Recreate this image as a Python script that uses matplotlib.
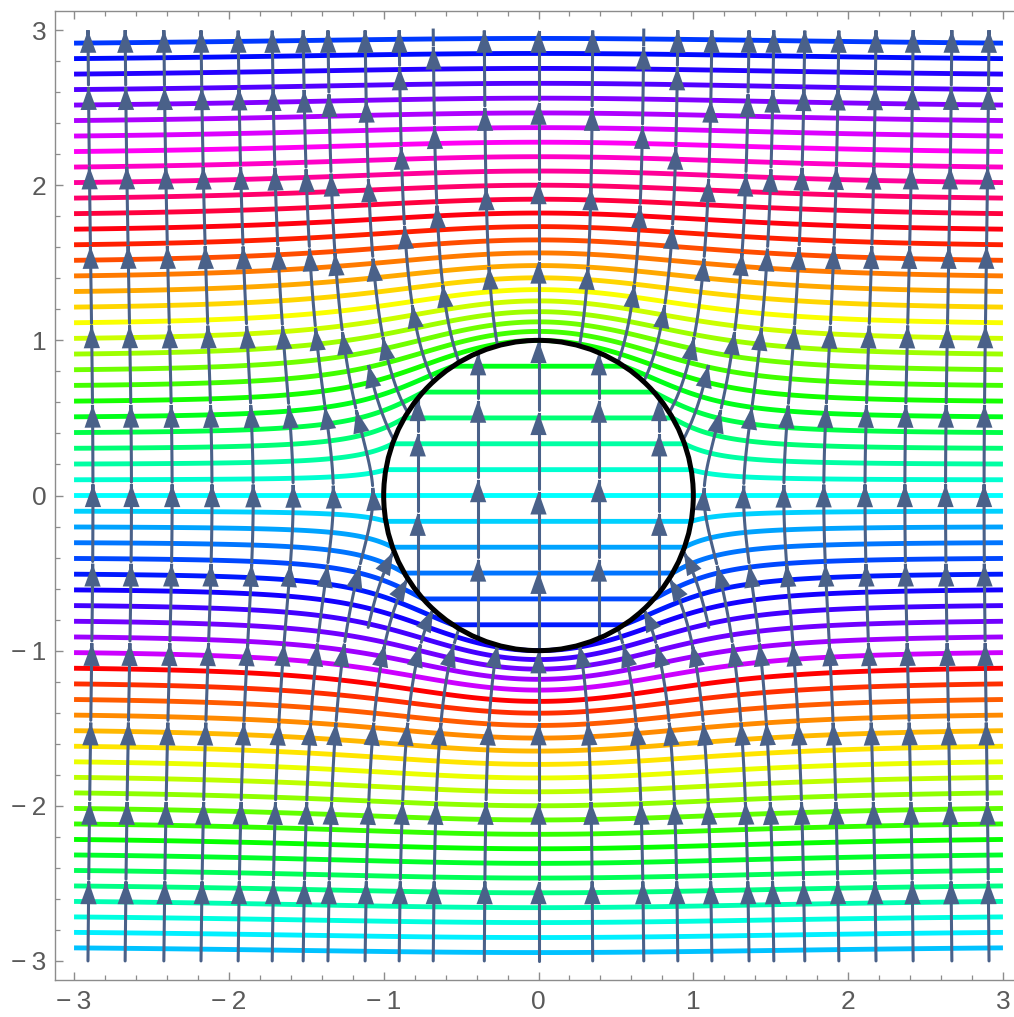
import colorsys
import numpy as np
import matplotlib.pyplot as plt
from matplotlib.patches import FancyArrowPatch, Circle, ArrowStyle
from matplotlib.path import Path
from matplotlib.ticker import MultipleLocator

plt.rcParams['font.family'] = ['Liberation Sans', 'DejaVu Sans']

# dielectric sphere (radius 1) in a uniform field along +y
eps = 3.0
radius = 1.0

# equipotential levels and the hue used for each one
levels = [-2.9, -2.8, -2.7, -2.6, -2.5, -2.4, -2.3, -2.2, -2.1, -2.0,
          -1.9, -1.8, -1.7, -1.6, -1.5, -1.4, -1.3, -1.2, -1.1, -1.0,
          -0.9, -0.8, -0.7, -0.6, -0.5, -0.4, -0.3, -0.2, -0.1, 0.0,
          0.1, 0.2, 0.3, 0.4, 0.5, 0.6, 0.7, 0.8, 0.9, 1.0,
          1.1, 1.2, 1.3, 1.4, 1.5, 1.6, 1.7, 1.8, 1.9, 2.0,
          2.1, 2.2, 2.3, 2.4, 2.5, 2.6, 2.7, 2.8, 2.9]
level_hues = [0.63, 0.66, 0.69, 0.72, 0.75, 0.78, 0.81, 0.84, 0.87, 0.90,
              0.93, 0.96, 0.99, 0.02, 0.05, 0.08, 0.11, 0.14, 0.17, 0.20,
              0.23, 0.26, 0.29, 0.32, 0.35, 0.38, 0.41, 0.44, 0.47, 0.50,
              0.53, 0.56, 0.59, 0.62, 0.65, 0.68, 0.71, 0.74, 0.77, 0.80,
              0.00, 0.03, 0.06, 0.09, 0.12, 0.15, 0.18, 0.21, 0.24, 0.27,
              0.30, 0.33, 0.36, 0.39, 0.42, 0.45, 0.48, 0.51, 0.54]

# field line seeds
xs_bottom = [-2.91, -2.67, -2.42, -2.18, -1.94, -1.72, -1.52, -1.36, -1.12,
             -0.90, -0.68, -0.35, 0.0, 0.35, 0.68, 0.90, 1.12, 1.36, 1.52,
             1.72, 1.94, 2.18, 2.42, 2.67, 2.91]
xs_inside = [-0.78, -0.39, 0.0, 0.39, 0.78]
extra_seeds = [(-1.10, -0.85), (1.10, -0.85)]

tick_values = [-3, -2, -1, 0, 1, 2, 3]
tick_labels = ['\u2212\u20093', '\u2212\u20092', '\u2212\u20091', '0', '1', '2', '3']

K = (eps - 1) / (eps + 2)
E_in = 3 / (eps + 2)
stream_color = '#4a6189'


def potential(x, y):
    r = np.maximum(np.hypot(x, y), 1e-9)
    return np.where(r < radius, -E_in * y, -y * (1 - K * radius**3 / r**3))


def unit_field(x, y, region):
    if region == 'in':
        return 0.0, 1.0
    r2 = x * x + y * y
    r5 = r2 ** 2.5
    ex = 3 * K * x * y / r5
    ey = 1 - K * (x * x - 2 * y * y) / r5
    n = np.hypot(ex, ey)
    return ex / n, ey / n


def trace(x, y, region, y_end=3.0, ds=0.004):
    pts = [(x, y)]
    hit = False
    for _ in range(5000):
        k1 = unit_field(x, y, region)
        k2 = unit_field(x + ds / 2 * k1[0], y + ds / 2 * k1[1], region)
        k3 = unit_field(x + ds / 2 * k2[0], y + ds / 2 * k2[1], region)
        k4 = unit_field(x + ds * k3[0], y + ds * k3[1], region)
        nx = x + ds / 6 * (k1[0] + 2 * k2[0] + 2 * k3[0] + k4[0])
        ny = y + ds / 6 * (k1[1] + 2 * k2[1] + 2 * k3[1] + k4[1])
        r0, rn = np.hypot(x, y), np.hypot(nx, ny)
        if (region == 'out' and rn < radius) or (region == 'in' and rn > radius):
            t = (r0 - radius) / (r0 - rn)
            pts.append((x + t * (nx - x), y + t * (ny - y)))
            hit = True
            break
        if ny >= y_end:
            t = (y_end - y) / (ny - y)
            pts.append((x + t * (nx - x), y_end))
            break
        x, y = nx, ny
        pts.append((x, y))
    return np.array(pts), hit


def draw_stream(ax, pts, seg=0.512, gap=0.015):
    d = np.hypot(np.diff(pts[:, 0]), np.diff(pts[:, 1]))
    s = np.concatenate([[0.0], np.cumsum(d)])
    total = s[-1]
    start = 0.0
    style = ArrowStyle('-|>', head_length=12, head_width=4.3)
    while start < total - 1e-6:
        end = min(start + seg, total)
        a = start + (gap if start > 0 else 0.0)
        ss = np.concatenate([[a], s[(s > a) & (s < end)], [end]])
        px = np.interp(ss, s, pts[:, 0])
        py = np.interp(ss, s, pts[:, 1])
        if end - a > 0.13:
            arr = FancyArrowPatch(path=Path(np.column_stack([px, py])),
                                  arrowstyle=style, mutation_scale=1,
                                  color=stream_color, lw=2.2, zorder=3,
                                  joinstyle='miter')
            ax.add_patch(arr)
        elif end - a > 0.01:
            ax.plot(px, py, color=stream_color, lw=2.2, zorder=3)
        start = end


fig = plt.figure(figsize=(10.14, 10.17), dpi=100)
ax = fig.add_axes([55 / 1014, 37 / 1017, 967 / 1014, 969 / 1017])

# equipotentials
g = np.linspace(-3, 3, 1401)
X, Y = np.meshgrid(g, g)
Z = potential(X, Y)
cols = [colorsys.hsv_to_rgb(h, 1, 1) for h in level_hues]
ax.contour(X, Y, Z, levels=levels, colors=cols, linewidths=3.5, zorder=1)

# field lines outside
for x0 in xs_bottom:
    p, hit = trace(x0, -3.0, 'out')
    draw_stream(ax, p)
    if hit:
        q, _ = trace(p[-1, 0], -p[-1, 1], 'out')
        draw_stream(ax, q)

for sx, sy in extra_seeds:
    p, hit = trace(sx, sy, 'out')
    draw_stream(ax, p)
    if hit:
        q, _ = trace(p[-1, 0], -p[-1, 1], 'out', y_end=-sy)
        draw_stream(ax, q)

# field lines inside
for xi in xs_inside:
    y0 = -np.sqrt(radius**2 - xi**2) + 1e-6
    p, _ = trace(xi, y0, 'in')
    draw_stream(ax, p)

ax.add_patch(Circle((0, 0), radius, fill=False, ec='black', lw=3.6, zorder=4))

ax.set_xlim(-3.123, 3.123)
ax.set_ylim(-3.123, 3.123)
ax.set_xticks(tick_values)
ax.set_xticklabels(tick_labels)
ax.set_yticks(tick_values)
ax.set_yticklabels(tick_labels)
ax.xaxis.set_minor_locator(MultipleLocator(0.2))
ax.yaxis.set_minor_locator(MultipleLocator(0.2))
ax.tick_params(which='both', direction='in', top=True, right=True,
               colors='#8c8c8c', labelcolor='#5a5a5a', labelsize=19)
ax.tick_params(which='major', length=6, width=1)
ax.tick_params(which='minor', length=3.5, width=0.9)
ax.tick_params(axis='x', pad=7)
ax.tick_params(axis='y', pad=6)
for sp in ax.spines.values():
    sp.set_color('#8c8c8c')
    sp.set_linewidth(1)

fig.savefig('out.png', dpi=100)
